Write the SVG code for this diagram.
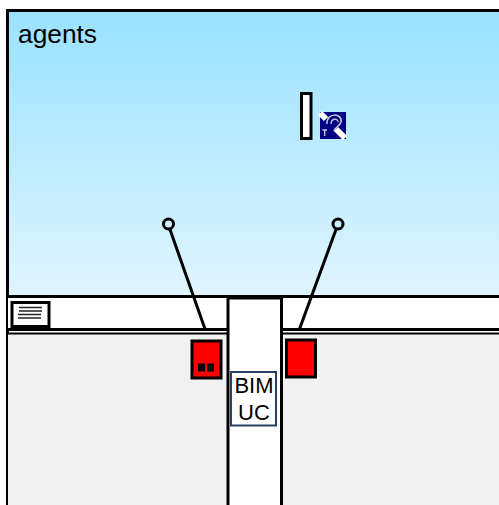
<svg xmlns="http://www.w3.org/2000/svg" width="499" height="505" viewBox="0 0 499 505">
<style>
.k{stroke:#000;stroke-width:3;fill:none}
.t{font-family:"Liberation Sans",Arial,sans-serif;fill:#000}
.r{fill:#f00;stroke:#000;stroke-width:3}
.w{fill:#fff;stroke:#000;stroke-width:3}
</style>
<defs>
<linearGradient id="sky" x1="0" y1="0" x2="0" y2="1"><stop offset="0" stop-color="#99e2ff"/><stop offset="1" stop-color="#e0f5ff"/></linearGradient>
</defs>
<rect width="499" height="505" fill="#fff"/>
<g id="agents">
<rect x="7.500" y="10.500" width="492" height="286" fill="url(#sky)"/>
<path class="k" d="M7.500 505V10.500H499"/>
<text class="t" x="18" y="43" font-size="26.300">agents</text>
</g>
<g id="lower-zone">
<rect x="8" y="333" width="491" height="172" fill="#f1f1f1"/>
<rect x="8" y="297" width="491" height="33" fill="#fff"/>
<path class="k" d="M7 296.500H499M7 329.500H499"/>
<path class="k" d="M7 333.500H499" style="stroke-width:2"/>
</g>
<g id="bim-column">
<rect x="228" y="298" width="53" height="207" fill="#fff"/>
<path class="k" d="M228 505V298H281.500V505"/>
</g>
<g id="bim-uc">
<rect x="231" y="372" width="45" height="53.500" fill="#fff" stroke="#2a4066" stroke-width="2"/>
<text class="t" x="254" y="393" font-size="22" text-anchor="middle">BIM</text>
<text class="t" x="254" y="420" font-size="22" text-anchor="middle">UC</text>
</g>
<g id="display">
<rect x="12" y="302.500" width="37" height="24" class="w"/>
<path d="M19 307.500H42M19 311H42M18 314.500H41M18 318H41" stroke="#222" stroke-width="1.300"/>
</g>
<g id="connectors">
<path class="k" d="M170 229.500L205 329M336 229.500L299.500 329"/>
<circle class="k" cx="168.500" cy="224" r="5"/>
<circle class="k" cx="338" cy="224" r="5"/>
</g>
<g id="red-left">
<rect class="r" x="192" y="341" width="29" height="37"/>
<rect x="198" y="363.500" width="7" height="8"/>
<rect x="207" y="363.500" width="7" height="8"/>
</g>
<g id="red-right">
<rect class="r" x="286.500" y="340" width="29" height="37"/>
</g>
<g id="white-bar">
<rect x="301.500" y="93.500" width="9.500" height="45" class="w"/>
</g>
<g id="hearing-icon">
<rect x="320" y="112" width="26" height="27" fill="#000080"/>
<path d="M320 113L326 119" stroke="#fff" stroke-width="6"/>
<path d="M336 129L345 138" stroke="#fff" stroke-width="6"/>
<path d="M327 124C326 112 343 113 341 122C340 126 335 127 334 131" fill="none" stroke="#ccd" stroke-width="1.500"/>
<path d="M331 124C331 118 338 118 338 122" fill="none" stroke="#ccd" stroke-width="1.300"/>
<path d="M322.500 130H327M324.700 130V136" stroke="#ccd" stroke-width="1.300"/>
</g>
</svg>
